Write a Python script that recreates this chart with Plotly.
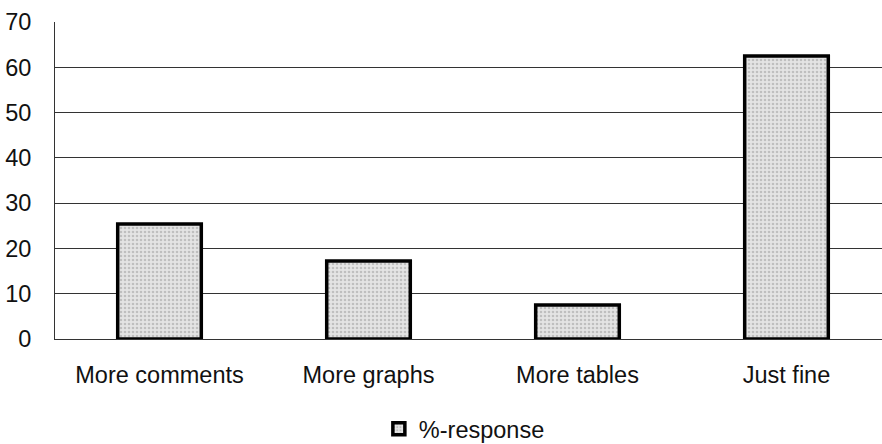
import plotly.graph_objects as go

categories = ["More comments", "More graphs", "More tables", "Just fine"]
values = [25.4, 17.2, 7.5, 62.5]
series_name = "%-response"
y_ticks = [0, 10, 20, 30, 40, 50, 60, 70]

FONT = dict(family="Liberation Sans, Arial, sans-serif", size=23.5, color="#111111")

fig = go.Figure()
fig.add_trace(go.Bar(
    x=categories,
    y=values,
    name=series_name,
    width=0.40,
    marker=dict(
        color="#dcdcdc",
        line=dict(color="#000000", width=3.5),
        pattern=dict(shape=".", fgcolor="#9a9a9a", bgcolor="#e4e4e4", size=4, solidity=0.35),
    ),
    showlegend=True,
))

fig.update_layout(
    width=882, height=444,
    margin=dict(l=55, r=0, t=22, b=105, autoexpand=False),
    paper_bgcolor="white",
    plot_bgcolor="white",
    font=FONT,
    bargap=0.6,
    legend=dict(
        orientation="h",
        x=0.495, xanchor="center",
        yref="container",
        y=0.034, yanchor="middle",
        font=FONT,
        itemwidth=30,
        bgcolor="rgba(0,0,0,0)",
    ),
    xaxis=dict(
        range=[-0.5, 3.457],
        showgrid=False,
        showline=True, linecolor="#333333", linewidth=1,
        ticks="",
        ticklabelstandoff=15,
        tickfont=FONT,
        zeroline=False,
        automargin=False,
    ),
    yaxis=dict(
        range=[0, 70],
        tickvals=y_ticks,
        showgrid=True, gridcolor="#333333", gridwidth=1,
        showline=True, linecolor="#333333", linewidth=1,
        ticks="",
        ticklabelstandoff=18,
        tickfont=FONT,
        zeroline=False,
        automargin=False,
    ),
)

fig.write_html("out.html")
